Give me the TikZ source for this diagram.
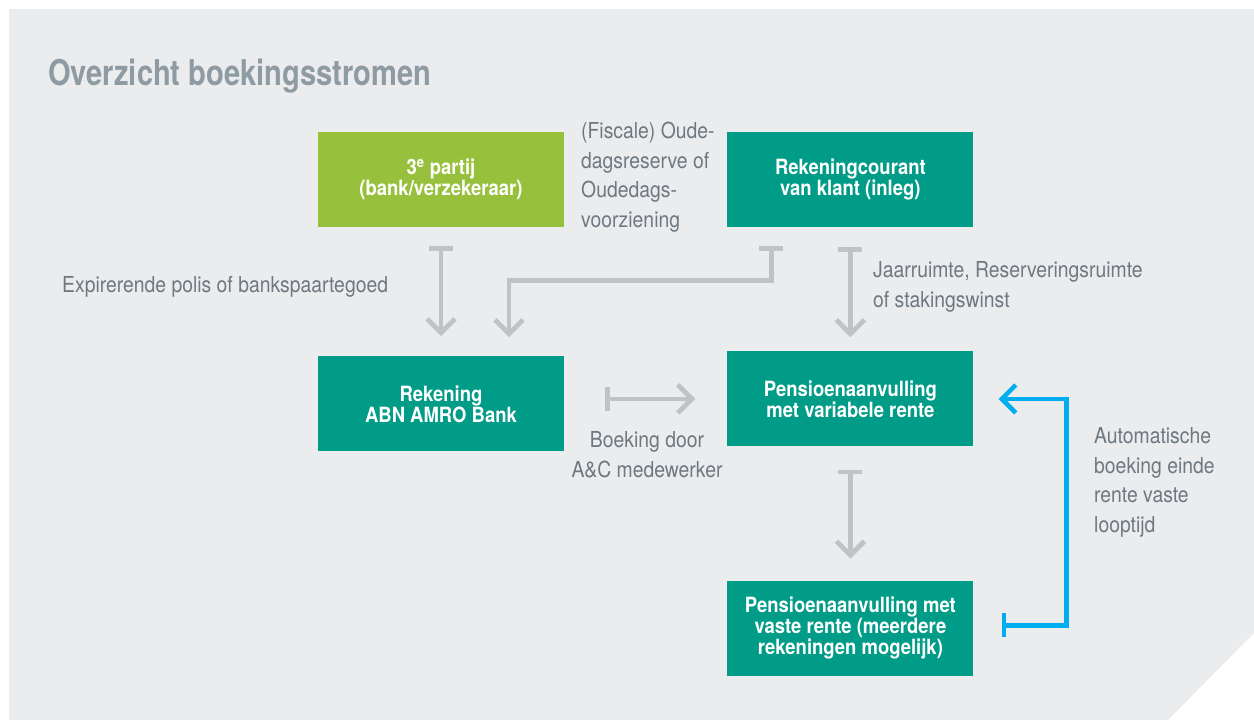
\documentclass[tikz,border=0pt]{standalone}
\usepackage{fontspec}
\setmainfont{TeX Gyre Heros}[FakeStretch=0.88]
\newfontfamily\kopfont{TeX Gyre Heros}[FakeStretch=0.82]
\usetikzlibrary{arrows.meta,positioning}
\definecolor{achtergrond}{HTML}{EBECEE}
\definecolor{groen}{HTML}{97C13C}
\definecolor{petrol}{HTML}{009C87}
\definecolor{pijlgrijs}{HTML}{BDC3C7}
\definecolor{blauw}{HTML}{00AEEF}
\definecolor{tekstgrijs}{HTML}{6E7880}
\definecolor{kopgrijs}{HTML}{8E9BA3}

\begin{document}
\begin{tikzpicture}[x=1pt, y=-1pt,
		blok/.style={fill=petrol, text=white, font=\bfseries\fontsize{21}{21}\selectfont, minimum width=246pt, minimum height=95pt, inner sep=0pt, align=center},
		stroom/.style={line width=4.8pt, color=pijlgrijs, {Bar[width=24pt]}-{Straight Barb[length=14pt, width=28pt]}},
		terug/.style={line width=4.5pt, color=blauw, {Bar[width=24pt]}-{Straight Barb[length=14pt, width=28pt]}},
		uitleg/.style={text=tekstgrijs, font=\fontsize{22}{29.5}\selectfont, inner sep=0pt, align=left, anchor=base west}]
		%%%%% START %%%%%
		
		\useasboundingbox (0, 0) rectangle (1254, 720);
		\fill[achtergrond] (9, 9) -- (1254, 9) -- (1254, 633) -- (1168, 720) -- (9, 720) -- cycle;
		
		\node[anchor=base west, inner sep=0pt, text=kopgrijs, font=\kopfont\bfseries\fontsize{35.5}{40}\selectfont] (kop) at (48, 85) {Overzicht boekingsstromen};
		
		% blokken
		\node[blok, fill=groen] (partij) at (441, 179.5) {3\textsuperscript{e} partij\\(bank/verzekeraar)};
		\node[blok, right=163pt of partij] (courant) {Rekeningcourant\\van klant (inleg)};
		\node[blok, below=129pt of partij] (abn) {Rekening\\ABN AMRO Bank};
		\node[blok, below=124pt of courant] (variabel) {Pensioenaanvulling\\met variabele rente};
		\node[blok, below=134pt of variabel] (vast) {Pensioenaanvulling met\\vaste rente (meerdere\\rekeningen mogelijk)};
		
		% stromen
		\draw[stroom, shorten <=19pt, shorten >=20pt] (partij) -- (abn);
		\draw[stroom, shorten <=19pt, shorten >=19pt] ([xshift=-79pt]courant.south) -- ++(0, 53) -| ([xshift=68pt]abn.north);
		\draw[stroom, shorten <=20pt, shorten >=14pt] (courant) -- (variabel);
		\draw[stroom, shorten <=41pt, shorten >=32pt] (abn.east |- variabel.west) -- (variabel.west);
		\draw[stroom, shorten <=23pt, shorten >=22pt] (variabel) -- (vast);
		\draw[terug, shorten <=28pt, shorten >=25pt] ([yshift=3pt]vast.east) -- ++(93, 0) |- (variabel.east);
		
		% teksten (anker op de basislijn van de laatste regel)
		\node[uitleg] (fiscaal) at (581, 227) {(Fiscale) Oude-\\dagsreserve of\\Oudedags-\\voorziening};
		\node[uitleg] (polis) at (62, 292) {Expirerende polis of bankspaartegoed};
		\node[uitleg] (ruimte) at (873, 307) {Jaarruimte, Reserveringsruimte\\of stakingswinst};
		\node[uitleg, align=center, anchor=base] (boeking) at (647, 477) {Boeking door\\A\&C medewerker};
		\node[uitleg] (automatisch) at (1094, 532) {Automatische\\boeking einde\\rente vaste\\looptijd};
		
		%%%%% END %%%%%
\end{tikzpicture}
\end{document}
